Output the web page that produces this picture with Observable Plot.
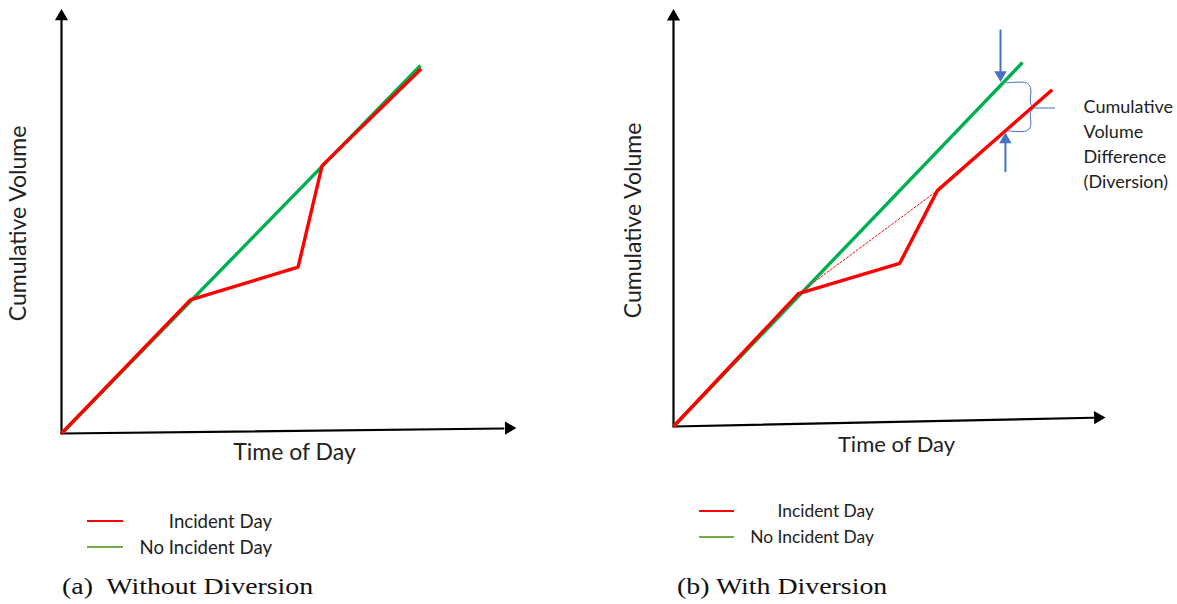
<!DOCTYPE html>
<html>
<head>
<meta charset="utf-8">
<script src="https://cdn.jsdelivr.net/npm/d3@7"></script>
<script src="https://cdn.jsdelivr.net/npm/@observablehq/plot@0.6"></script>
<style>
  html, body { margin: 0; padding: 0; background: #fff; }
  #root { position: relative; width: 1177px; height: 604px; overflow: hidden; background: #fff; font-family: Lato, "Open Sans", sans-serif; color: #222; }
  .panel { position: absolute; top: 0; }
  .leg-line { position: absolute; height: 2px; }
  .leg-text { position: absolute; text-align: right; white-space: nowrap; line-height: 1; }
  .caption { position: absolute; font-family: "Liberation Serif", "DejaVu Serif", serif; font-size: 24px; color: #111; white-space: pre; line-height: 1; transform: scaleX(1.16); transform-origin: 0 50%; }
</style>
</head>
<body>
<div id="root"></div>
<script>
// ---------- data (schematic values, time & cumulative volume in relative units) ----------
// Panel (a) Without Diversion
const noIncidentA_t = [0, 100];
const noIncidentA_v = [0, 100];
const incidentA_t = [0, 35.9, 65.9, 72.6, 100.2];
const incidentA_v = [0, 36.3, 45.2, 72.8, 99.1];

// Panel (b) With Diversion
const noIncidentB_t = [0, 100];
const noIncidentB_v = [0, 100];
const incidentB_t = [0, 35.8, 64.8, 75.6, 108.5];
const incidentB_v = [0, 36.5, 44.8, 64.8, 92.5];
const expectedB_t = [35.8, 75.6];   // dashed recovery without diversion
const expectedB_v = [36.5, 64.8];

// Diversion annotation (brace + arrows) in the same units
const braceB_t = [95.4, 101.1, 102.3, 102.3, 103.2, 102.3, 102.3, 101.1, 96.0];
const braceB_v = [94.4, 94.4, 93.1, 88.7, 87.5, 86.3, 82.4, 81.2, 81.2];
const braceTickB_t = [103.2, 109.2];
const braceTickB_v = [87.5, 87.5];

const seriesNames = ["Incident Day", "No Incident Day"];
const annotationText = "Cumulative\nVolume\nDifference\n(Diversion)";
const axisTitleX = "Time of Day";
const axisTitleY = "Cumulative Volume";
const captions = ["(a)  Without Diversion", "(b) With Diversion"];

const RED = "#ff0000", GREEN = "#00b050", BLUE = "#4472c4";
const LEG_GREEN = "#70ad47";

const zip = (ts, vs) => ts.map((t, i) => ({t, v: vs[i]}));

function panel({width, xRange, yRange, noInc, inc, extra, axis, labels}) {
  return Plot.plot({
    width, height: 470, margin: 0,
    x: {domain: [0, 100], range: xRange, axis: null},
    y: {domain: [0, 100], range: yRange, axis: null},
    style: {fontFamily: "Lato, 'Open Sans', sans-serif", background: "transparent", overflow: "visible"},
    marks: [
      // axes with filled arrowheads
      Plot.line(axis.yLine, {x: "t", y: "v", stroke: "black", strokeWidth: 2.2}),
      Plot.line(axis.xLine, {x: "t", y: "v", stroke: "black", strokeWidth: 2.2}),
      Plot.dot(axis.heads, {x: "t", y: "v", rotate: "rot", symbol: "triangle", r: 4.9, fill: "black", stroke: "none"}),
      // series
      Plot.line(noInc, {x: "t", y: "v", stroke: GREEN, strokeWidth: 3.4, strokeLinecap: "butt", strokeLinejoin: "miter"}),
      Plot.line(inc, {x: "t", y: "v", stroke: RED, strokeWidth: 3.4, strokeLinecap: "butt", strokeLinejoin: "miter"}),
      ...extra,
      // axis titles
      Plot.text([axisTitleY], {x: labels.yT, y: labels.yV, rotate: -90, fontSize: 23, fill: "#222"}),
      Plot.text([axisTitleX], {x: labels.xT, y: labels.xV, fontSize: labels.xSize, fill: "#222"})
    ]
  });
}

const root = document.getElementById("root");

// ---------- panel (a) ----------
const plotA = panel({
  width: 600, xRange: [61, 420], yRange: [433, 65],
  noInc: zip(noIncidentA_t, noIncidentA_v),
  inc: zip(incidentA_t, incidentA_v),
  extra: [],
  axis: {
    yLine: [{t: 0, v: 0}, {t: 0, v: 112.2}],
    xLine: [{t: 0, v: 0}, {t: 123.1, v: 1.36}],
    heads: [{t: 0, v: 113.3, rot: 0}, {t: 124.6, v: 1.5, rot: 89.3}]
  },
  labels: {yT: -12.0, yV: 57.1, xT: 64.9, xV: -5.2, xSize: 23}
});
const wrapA = document.createElement("div");
wrapA.className = "panel"; wrapA.style.left = "0px";
wrapA.appendChild(plotA); root.appendChild(wrapA);

// ---------- panel (b) ----------
const plotB = panel({
  width: 577, xRange: [73, 422], yRange: [426, 62],
  noInc: zip(noIncidentB_t, noIncidentB_v),
  inc: zip(incidentB_t, incidentB_v),
  extra: [
    Plot.line(zip(expectedB_t, expectedB_v), {x: "t", y: "v", stroke: RED, strokeWidth: 1, strokeDasharray: "2,2"}),
    Plot.line(zip(braceB_t, braceB_v), {x: "t", y: "v", stroke: BLUE, strokeWidth: 1, curve: "catmull-rom"}),
    Plot.line(zip(braceTickB_t, braceTickB_v), {x: "t", y: "v", stroke: BLUE, strokeWidth: 1}),
    Plot.line([{t: 93.7, v: 108.8}, {t: 93.7, v: 97.6}], {x: "t", y: "v", stroke: BLUE, strokeWidth: 2}),
    Plot.line([{t: 95.1, v: 70.1}, {t: 95.1, v: 77.9}], {x: "t", y: "v", stroke: BLUE, strokeWidth: 2}),
    Plot.dot([{t: 93.7, v: 96.6, rot: 180}, {t: 95.1, v: 78.8, rot: 0}], {x: "t", y: "v", rotate: "rot", symbol: "triangle", r: 4.6, fill: BLUE, stroke: "none"}),
    Plot.text([annotationText], {x: 117.5, y: 78.1, textAnchor: "start", fontSize: 18, lineHeight: 1.39, fill: "#222"})
  ],
  axis: {
    yLine: [{t: 0, v: 0}, {t: 0, v: 111.5}],
    xLine: [{t: 0, v: 0}, {t: 120.3, v: 2.4}],
    heads: [{t: 0, v: 112.6, rot: 0}, {t: 121.6, v: 2.44, rot: 88.8}]
  },
  labels: {yT: -11.5, yV: 56.6, xT: 63.9, xV: -5.2, xSize: 22}
});
const wrapB = document.createElement("div");
wrapB.className = "panel"; wrapB.style.left = "600px";
wrapB.appendChild(plotB); root.appendChild(wrapB);

// ---------- legends & captions (HTML below the plots) ----------
function legend(lineX, lineW, rows, textRight, fontSize) {
  rows.forEach(([name, color, y]) => {
    const l = document.createElement("div");
    l.className = "leg-line";
    l.style.left = lineX + "px"; l.style.width = lineW + "px";
    l.style.top = (y - 1) + "px"; l.style.background = color;
    root.appendChild(l);
    const t = document.createElement("div");
    t.className = "leg-text";
    t.textContent = name;
    t.style.fontSize = fontSize + "px";
    t.style.right = (1177 - textRight) + "px";
    t.style.top = (y - fontSize / 2) + "px";
    root.appendChild(t);
  });
}
legend(87, 36, [[seriesNames[0], RED, 521], [seriesNames[1], LEG_GREEN, 547]], 272, 18.6);
legend(699, 35, [[seriesNames[0], RED, 511], [seriesNames[1], LEG_GREEN, 537]], 874, 17.4);

function caption(text, x, top) {
  const c = document.createElement("div");
  c.className = "caption";
  c.textContent = text;
  c.style.left = x + "px"; c.style.top = top + "px";
  root.appendChild(c);
}
caption(captions[0], 62, 574);
caption(captions[1], 677, 574);
</script>
</body>
</html>
